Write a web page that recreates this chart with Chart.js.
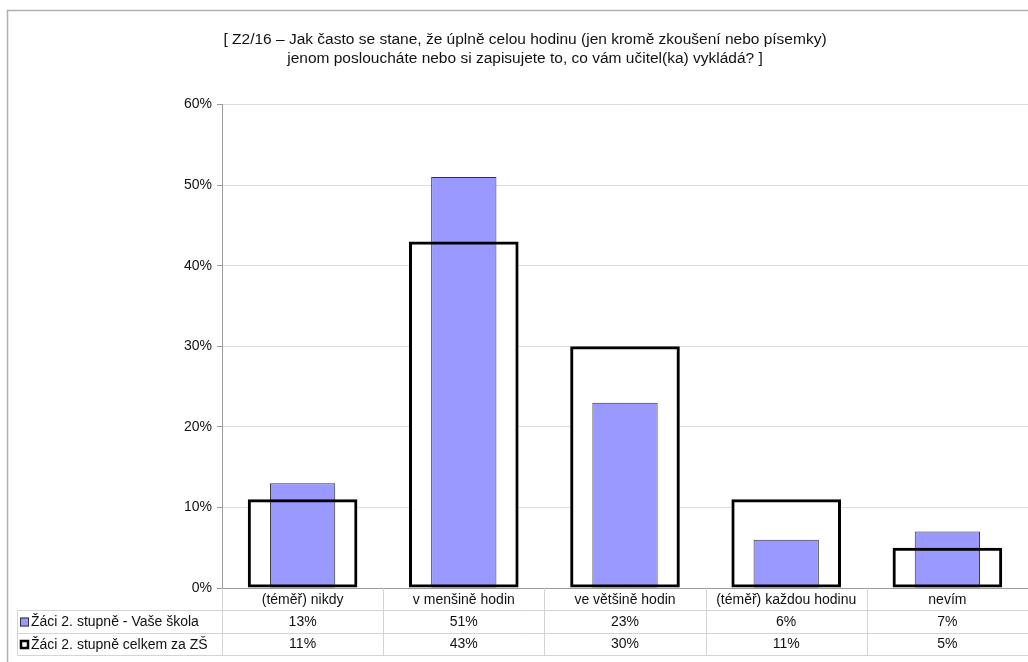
<!DOCTYPE html>
<html>
<head>
<meta charset="utf-8">
<script src="https://cdn.jsdelivr.net/npm/chart.js@4.4.1/dist/chart.umd.min.js"></script>
<style>
  html, body { margin: 0; padding: 0; background: #fff; }
  #wrap { width: 1028px; height: 662px; position: relative; }
</style>
</head>
<body>
<div id="wrap"><canvas id="chart" width="1028" height="662"></canvas></div>
<script>
// Chart data
const categories = ['(téměř) nikdy', 'v menšině hodin', 've většině hodin', '(téměř) každou hodinu', 'nevím'];
const schoolValues = [13, 51, 23, 6, 7];
const totalValues = [11, 43, 30, 11, 5];
const seriesNames = ['Žáci 2. stupně - Vaše škola', 'Žáci 2. stupně celkem za ZŠ'];
const titleLines = [
  '[ Z2/16 – Jak často se stane, že úplně celou hodinu (jen kromě zkoušení nebo písemky)',
  'jenom posloucháte nebo si zapisujete to, co vám učitel(ka) vykládá? ]'
];
const yMin = 0, yMax = 60, yStep = 10;

const FONT = '"Liberation Sans", Arial, sans-serif';
const PURPLE = '#9999ff';
const TABLE_LINE = '#d4d4d4';

// white page + thin frame at the top/left
const framePlugin = {
  id: 'frame',
  beforeDraw(chart) {
    const ctx = chart.ctx;
    ctx.save();
    ctx.fillStyle = '#fff';
    ctx.fillRect(0, 0, chart.width, chart.height);
    ctx.strokeStyle = '#b0b0b0';
    ctx.lineWidth = 1.5;
    ctx.beginPath();
    ctx.moveTo(7.5, chart.height);
    ctx.lineTo(7.5, 10.5);
    ctx.lineTo(chart.width, 10.5);
    ctx.stroke();
    ctx.restore();
  }
};

// data table under the x axis, aligned with the category scale
const tablePlugin = {
  id: 'dataTable',
  afterDraw(chart) {
    const ctx = chart.ctx;
    const x = chart.scales.x;
    const area = chart.chartArea;
    const step = x.getPixelForValue(1) - x.getPixelForValue(0);
    const rowTop = area.bottom;
    const rows = [rowTop + 22.5, rowTop + 45.5, rowTop + 67.5];
    const legendLeft = 17.5;

    ctx.save();
    ctx.strokeStyle = TABLE_LINE;
    ctx.lineWidth = 1;
    ctx.beginPath();
    rows.forEach(y => {
      ctx.moveTo(legendLeft, y);
      ctx.lineTo(chart.width, y);
    });
    ctx.moveTo(legendLeft, rows[0]);
    ctx.lineTo(legendLeft, rows[2]);
    for (let i = 0; i <= categories.length; i++) {
      const bx = Math.round(x.getPixelForValue(0) - step / 2 + i * step) + 0.5;
      ctx.moveTo(bx, rowTop);
      ctx.lineTo(bx, rows[2]);
    }
    ctx.stroke();

    ctx.fillStyle = '#111';
    ctx.font = '14px ' + FONT;
    ctx.textBaseline = 'middle';
    ctx.textAlign = 'center';
    [schoolValues, totalValues].forEach((vals, r) => {
      const cy = (rows[r] + rows[r + 1]) / 2;
      vals.forEach((v, i) => {
        ctx.fillText(v + '%', x.getPixelForValue(i), cy);
      });
    });

    // legend keys
    ctx.textAlign = 'left';
    seriesNames.forEach((name, r) => {
      const cy = (rows[r] + rows[r + 1]) / 2;
      if (r === 0) {
        ctx.fillStyle = PURPLE;
        ctx.fillRect(20, cy - 4.5, 9, 9);
        ctx.strokeStyle = '#333';
        ctx.lineWidth = 1;
        ctx.strokeRect(20.5, cy - 4, 8, 8);
      } else {
        ctx.fillStyle = '#fff';
        ctx.fillRect(20, cy - 4.5, 9, 9);
        ctx.strokeStyle = '#000';
        ctx.lineWidth = 2.5;
        ctx.strokeRect(21, cy - 3.5, 7, 7);
      }
      ctx.fillStyle = '#111';
      ctx.fillText(name, 31, cy + 0.5);
    });
    ctx.restore();
  }
};

new Chart(document.getElementById('chart'), {
  type: 'bar',
  data: {
    labels: categories,
    datasets: [
      {
        // outline of the total series, drawn above everything
        label: seriesNames[1],
        data: totalValues,
        backgroundColor: 'rgba(0,0,0,0)',
        borderColor: '#000',
        borderWidth: 3,
        borderSkipped: false,
        barPercentage: 0.68,
        categoryPercentage: 1,
        grouped: false,
        order: 1
      },
      {
        label: seriesNames[0],
        data: schoolValues,
        backgroundColor: PURPLE,
        borderColor: '#333',
        borderWidth: 1,
        borderSkipped: false,
        barPercentage: 0.405,
        categoryPercentage: 1,
        grouped: false,
        order: 2
      },
      {
        // white body of the total series, behind the purple bars
        label: 'fill',
        data: totalValues,
        backgroundColor: '#fff',
        borderWidth: 0,
        barPercentage: 0.68,
        categoryPercentage: 1,
        grouped: false,
        order: 3
      }
    ]
  },
  options: {
    responsive: false,
    animation: false,
    layout: { padding: { left: 22, right: 0, top: 14, bottom: 0 } },
    scales: {
      x: {
        afterFit(scale) { scale.height = 74; },
        grid: { display: false, drawTicks: false },
        border: { color: '#999', width: 1 },
        ticks: { color: '#111', font: { family: FONT, size: 14 }, padding: 4, maxRotation: 0 }
      },
      y: {
        min: yMin,
        max: yMax,
        afterFit(scale) { scale.width = 200; },
        grid: { color: '#dcdcdc', tickLength: 5, tickColor: '#999' },
        border: { color: '#999', width: 1 },
        ticks: {
          stepSize: yStep,
          padding: 5,
          color: '#111',
          font: { family: FONT, size: 14 },
          callback: v => v + '%'
        }
      }
    },
    plugins: {
      legend: { display: false },
      tooltip: { enabled: false },
      title: {
        display: true,
        text: titleLines,
        color: '#111',
        font: { family: FONT, size: 15.5, weight: 'normal', lineHeight: 1.18 },
        padding: { top: 17, bottom: 37 }
      }
    }
  },
  plugins: [framePlugin, tablePlugin]
});
</script>
</body>
</html>
